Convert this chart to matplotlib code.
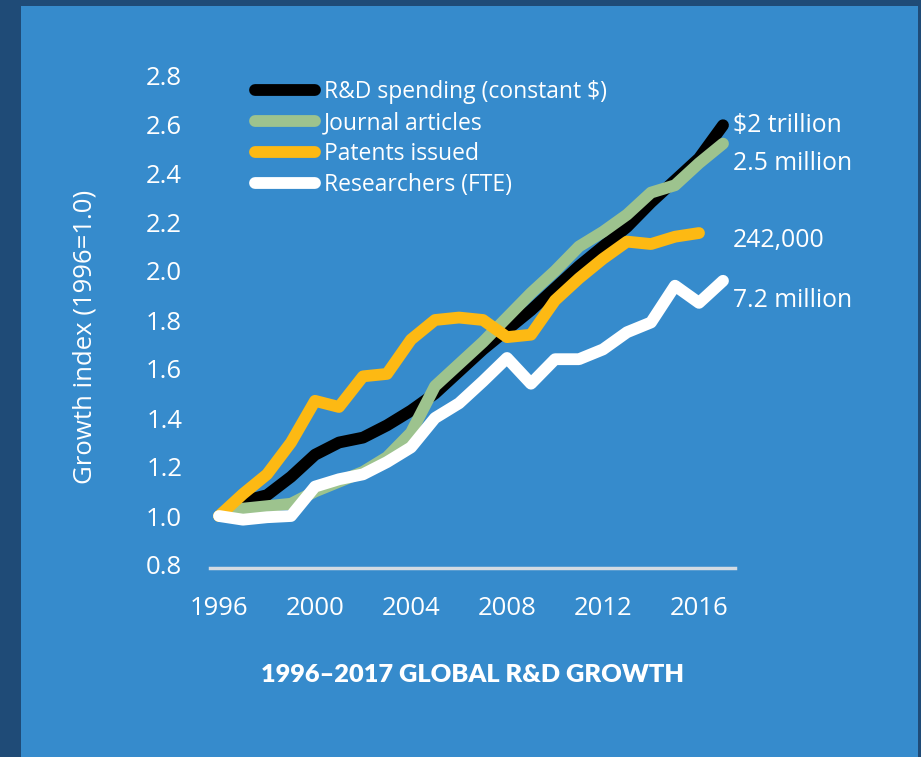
import matplotlib
matplotlib.use("Agg")
import matplotlib.pyplot as plt
from matplotlib.patches import Rectangle

plt.rcParams['font.family'] = ['Open Sans', 'DejaVu Sans']

years = list(range(1996, 2018))
rd_spending = [1.00, 1.06, 1.085, 1.16, 1.25, 1.30, 1.32, 1.37, 1.43, 1.50, 1.59,
               1.68, 1.76, 1.84, 1.93, 2.02, 2.10, 2.18, 2.28, 2.37, 2.46, 2.595]
journal = [1.00, 1.03, 1.04, 1.05, 1.10, 1.14, 1.18, 1.24, 1.34, 1.53, 1.62,
           1.71, 1.81, 1.91, 2.00, 2.10, 2.16, 2.23, 2.32, 2.35, 2.44, 2.52]
patent_years = list(range(1996, 2017))
patents = [1.00, 1.09, 1.17, 1.30, 1.47, 1.445, 1.57, 1.58, 1.72, 1.80, 1.81,
           1.80, 1.73, 1.74, 1.88, 1.97, 2.05, 2.12, 2.11, 2.14, 2.155]
researchers = [1.00, 0.985, 0.995, 1.00, 1.12, 1.15, 1.17, 1.22, 1.28, 1.40, 1.46,
               1.55, 1.645, 1.54, 1.64, 1.64, 1.68, 1.75, 1.79, 1.94, 1.87, 1.96]

series_names = ["R&D spending (constant $)", "Journal articles", "Patents issued", "Researchers (FTE)"]
end_labels = ["$2 trillion", "2.5 million", "242,000", "7.2 million"]
end_label_y = [2.595, 2.44, 2.125, 1.88]
yticks = [0.8, 1.0, 1.2, 1.4, 1.6, 1.8, 2.0, 2.2, 2.4, 2.6, 2.8]
xticks = [1996, 2000, 2004, 2008, 2012, 2016]

dark = "#1f4b77"
panel = "#368bcc"
W, H = 921, 757

fig = plt.figure(figsize=(W / 100, H / 100), dpi=100)
fig.patch.set_facecolor(dark)
fig.patches.append(Rectangle((21 / W, 0), (918 - 21) / W, (H - 6) / H,
                             transform=fig.transFigure, facecolor=panel, edgecolor='none', zorder=-10))

# axes box in pixels: x 210..735, y 62..568
ax = fig.add_axes([210 / W, (H - 568) / H, (735 - 210) / W, (568 - 62) / H])
ax.set_facecolor('none')
ax.set_xlim(1995.625, 2017.5)
ax.set_ylim(0.8 - 3 / 245, 1 + (516 - 62) / 245)

kw = dict(lw=8.5, solid_capstyle='round', solid_joinstyle='round')
ax.plot(years, rd_spending, color='black', label=series_names[0], zorder=3, **kw)
ax.plot(years, journal, color='#9dc38e', label=series_names[1], zorder=4, **kw)
ax.plot(patent_years, patents, color='#fdb913', label=series_names[2], zorder=5, **kw)
ax.plot(years, researchers, color='white', label=series_names[3], zorder=6, **kw)

for s in ['top', 'right', 'left']:
    ax.spines[s].set_visible(False)
ax.spines['bottom'].set_color('#d3dbe3')
ax.spines['bottom'].set_linewidth(2.5)

ax.set_yticks(yticks)
ax.set_yticklabels([f"{v:.1f}" for v in yticks])
ax.set_xticks(xticks)
ax.tick_params(axis='both', length=0, labelcolor='white', labelsize=18.5)
ax.tick_params(axis='y', pad=20)
ax.tick_params(axis='x', pad=20)
ax.set_ylabel("Growth index (1996=1.0)", color='white', fontsize=18.5, va='center', ha='center')
ax.yaxis.set_label_coords((85 - 210) / 525, (568 - 337) / 506)

for txt, yv in zip(end_labels, end_label_y):
    ax.text(2017.4, yv, txt, color='white', fontsize=17.8, va='center', ha='left', clip_on=False)

leg = ax.legend(loc='upper left', bbox_to_anchor=(246 / W, (H - 71) / H),
                bbox_transform=fig.transFigure, frameon=False, fontsize=16.5,
                handlelength=2.6, handletextpad=0.4, labelspacing=0.31, borderaxespad=0)
for t in leg.get_texts():
    t.set_color('white')

fig.text(472 / W, (H - 675) / H, "1996–2017 GLOBAL R&D GROWTH", color='white',
         family=['Lato', 'DejaVu Sans'], fontsize=18.3, fontweight='heavy', ha='center', va='center')

fig.savefig("out.png", dpi=100, facecolor=fig.get_facecolor())
